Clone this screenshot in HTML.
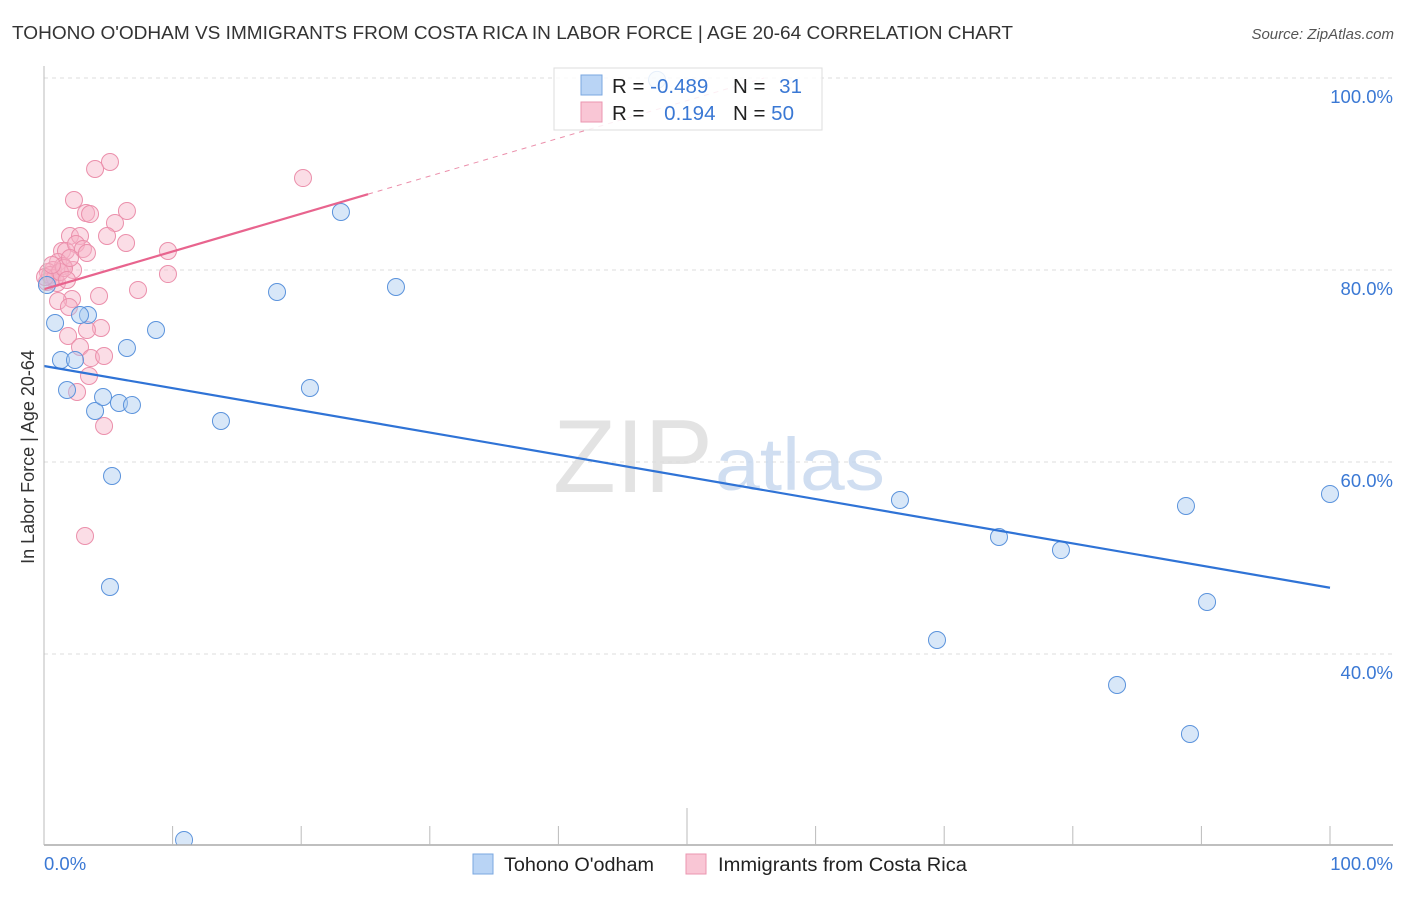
<!DOCTYPE html>
<html><head><meta charset="utf-8">
<style>
body{margin:0;background:#fff;font-family:"Liberation Sans",sans-serif;}
svg text{font-family:"Liberation Sans",sans-serif;}
</style></head>
<body>
<svg id="chart" width="1406" height="892" xmlns="http://www.w3.org/2000/svg">
<defs><clipPath id="plotclip"><rect x="0" y="60" width="1406" height="785"/></clipPath></defs>
<text x="12" y="39" font-size="18" fill="#333" textLength="1001" lengthAdjust="spacingAndGlyphs">TOHONO O'ODHAM VS IMMIGRANTS FROM COSTA RICA IN LABOR FORCE | AGE 20-64 CORRELATION CHART</text>
<text x="1394" y="39" font-size="15" fill="#555" text-anchor="end" font-style="italic">Source: ZipAtlas.com</text>
<text transform="translate(34,457) rotate(-90)" font-size="18" fill="#333" text-anchor="middle">In Labor Force | Age 20-64</text>
<g id="grid"></g>
<text x="553" y="492" font-size="104" fill="#ddd" font-family="Liberation Serif" opacity="0.8" textLength="160" lengthAdjust="spacingAndGlyphs">ZIP</text>
<text x="715" y="490" font-size="74" fill="#c5d7ee" opacity="0.8" textLength="170" lengthAdjust="spacingAndGlyphs">atlas</text>
<g id="marks" clip-path="url(#plotclip)"></g>
<g id="axes"></g>
<g>
<rect x="554" y="68" width="268" height="62" fill="#fff" fill-opacity="0.85" stroke="#ddd"/>
<rect x="581" y="75" width="21" height="20" fill="#b9d4f5" stroke="#7aa7e0"/>
<rect x="581" y="102" width="21" height="20" fill="#f9c6d5" stroke="#eb96b0"/>
<text x="612" y="93" font-size="20.5" fill="#222">R = <tspan fill="#3a78d4">-0.489</tspan></text>
<text x="733" y="93" font-size="20.5" fill="#222">N = <tspan fill="#3a78d4" dx="8">31</tspan></text>
<text x="612" y="120" font-size="20.5" fill="#222">R = <tspan fill="#3a78d4" dx="14">0.194</tspan></text>
<text x="733" y="120" font-size="20.5" fill="#222">N = <tspan fill="#3a78d4">50</tspan></text>
</g>
<g>
<rect x="473" y="854" width="20" height="20" fill="#b9d4f5" stroke="#7aa7e0"/>
<text x="504" y="871" font-size="19" fill="#222" textLength="150" lengthAdjust="spacingAndGlyphs">Tohono O'odham</text>
<rect x="686" y="854" width="20" height="20" fill="#f9c6d5" stroke="#eb96b0"/>
<text x="718" y="871" font-size="19" fill="#222" textLength="249" lengthAdjust="spacingAndGlyphs">Immigrants from Costa Rica</text>
</g>
</svg>
<script>
const yTicks=[100,80,60,40];
const yTickLabels=["100.0%","80.0%","60.0%","40.0%"];
const xTickLabels=["0.0%","100.0%"];
const blueX=[0.86,1.32,2.41,1.79,3.97,4.59,5.83,6.84,3.42,6.45,8.71,5.29,5.13,10.89,13.76,18.12,20.68,23.09,27.37,47.67,66.56,74.26,79.08,69.44,83.44,88.80,90.44,89.11,100,2.8,0.23];
const blueY=[74.48,70.63,70.63,67.5,65.31,66.77,66.15,65.94,75.31,71.88,73.75,58.54,46.98,20.63,64.27,77.71,67.71,86.04,78.23,99.8,56.04,52.19,50.83,41.46,36.77,55.42,45.42,31.67,56.67,75.31,78.44];
const pinkX=[5.13,3.97,20.14,2.33,3.27,3.58,6.45,5.52,4.90,6.38,9.64,2.02,2.80,1.40,1.71,2.49,3.03,3.34,1.09,0.70,1.48,2.26,0.31,0.62,1.01,0.23,9.64,7.31,4.28,2.18,1.09,1.94,4.43,3.34,1.87,2.80,3.65,4.67,3.50,2.57,4.67,3.19,0.47,0.86,1.24,1.56,0.08,1.79,0.62,2.02];
const pinkY=[91.25,90.52,89.58,87.29,85.94,85.83,86.15,84.90,83.54,82.81,81.98,83.54,83.54,81.98,81.98,82.71,82.19,81.77,80.83,80.0,80.42,80.0,79.79,79.17,78.65,78.75,79.58,77.92,77.29,76.98,76.77,76.15,73.96,73.75,73.13,71.98,70.83,71.04,68.96,67.29,63.75,52.29,79.48,79.17,79.79,80.21,79.27,78.96,80.52,81.25];
const blueTrend=[70.0,46.9];
const pinkTrend=[78.0,87.9];
const pinkSolidEnd=25.2;

const NS="http://www.w3.org/2000/svg";
const sx=v=>44+v*12.86;
const sy=v=>78+(100-v)*9.6;
function mk(tag,attrs,parent){const e=document.createElementNS(NS,tag);for(const k in attrs)e.setAttribute(k,attrs[k]);parent.appendChild(e);return e;}
const grid=document.getElementById('grid'),marks=document.getElementById('marks'),axes=document.getElementById('axes');
yTicks.forEach((t,i)=>{
  const l=mk('line',{x1:44,x2:1393,y1:sy(t),y2:sy(t),stroke:'#ddd','stroke-dasharray':'4,4'},grid);
  
  
  const tx=mk('text',{x:1393,y:sy(t)+25,'font-size':18.5,fill:'#3a78d4','text-anchor':'end'},grid);
  tx.textContent=yTickLabels[i];
  
  
});
const ya=mk('line',{x1:44,x2:44,y1:66,y2:845,stroke:'#bbb'},axes);


const xa=mk('line',{x1:44,x2:1393,y1:845,y2:845,stroke:'#aaa','stroke-width':1.5},axes);


for(let i=0;i<=10;i++){
  const tk=mk('line',{x1:sx(i*10),x2:sx(i*10),y1:i==5?808:826,y2:845,stroke:'#bbb'},axes);
  
  
}
[[0,'start',44],[100,'end',1393]].forEach((d,i)=>{
  const t=mk('text',{x:d[2],y:870,'font-size':18.5,fill:'#3a78d4','text-anchor':d[1]},axes);
  t.textContent=xTickLabels[i];
  
  
});
pinkX.forEach((x,i)=>{
  const c=mk('circle',{cx:sx(x),cy:sy(pinkY[i]),r:8.5,fill:'#f6b4c8','fill-opacity':0.45,stroke:'#eb8fab','stroke-width':1},marks);
  
  
});
blueX.forEach((x,i)=>{
  const c=mk('circle',{cx:sx(x),cy:sy(blueY[i]),r:8.5,fill:'#a9c9f0','fill-opacity':0.45,stroke:'#5b93dc','stroke-width':1},marks);
  
  
});
const bt=mk('line',{x1:sx(0),y1:sy(blueTrend[0]),x2:sx(100),y2:sy(blueTrend[1]),stroke:'#2f73d6','stroke-width':2.2},marks);


const slope=(pinkTrend[1]-pinkTrend[0])/pinkSolidEnd;
const xEnd=(100-pinkTrend[0])/slope;
const pd=mk('line',{x1:sx(pinkSolidEnd),y1:sy(pinkTrend[1]),x2:sx(xEnd),y2:sy(100),stroke:'#eb8fab','stroke-width':1,'stroke-dasharray':'5,5'},marks);


const pt=mk('line',{x1:sx(0),y1:sy(pinkTrend[0]),x2:sx(pinkSolidEnd),y2:sy(pinkTrend[1]),stroke:'#e8648e','stroke-width':2.2},marks);


</script>
</body></html>
